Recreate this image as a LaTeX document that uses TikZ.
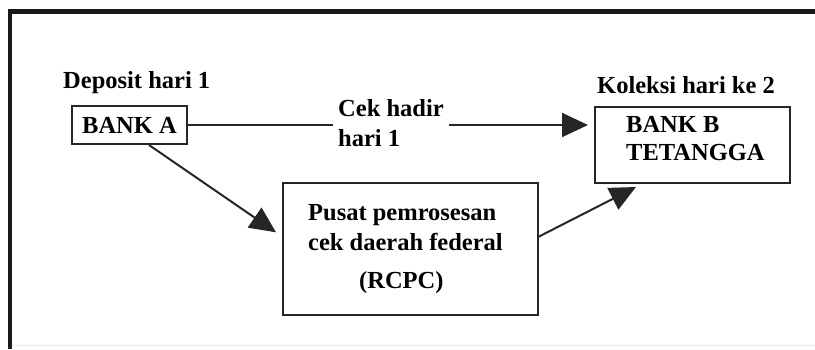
\documentclass[tikz,border=0pt]{standalone}
\usepackage{fontspec}
\setmainfont{Liberation Serif}
\usetikzlibrary{arrows.meta,calc}

\tikzset{
  txt/.style={font=\bfseries\fontsize{24.5}{30}\selectfont, inner sep=0pt, text=black},
  box/.style={draw=black!85, line width=2pt, inner sep=0pt},
  link/.style={draw=black!85, line width=2pt,
    -{Triangle[length=26pt,width=24pt]}},
  frame/.style={draw=black!90, line width=4.5pt, line join=miter}
}

\begin{document}
\begin{tikzpicture}[x=1pt,y=-1pt]
  \useasboundingbox (0,0) rectangle (815,349);

  % outer frame (open on the right)
  \draw[frame] (10,349) -- (10,11.25) -- (815,11.25);
  \draw[black!8, line width=1.5pt] (12,345.5) -- (815,345.5);

  % captions
  \node[txt, anchor=base west] (dep) at (63,88.3) {Deposit hari 1};
  \node[txt, anchor=base west] (kol) at (597,93.3) {Koleksi hari ke 2};

  % banks (multi-line texts are placed by the baseline of their last line)
  \node[box, txt, minimum width=115pt, minimum height=38pt] (bankA) at (129.5,125) {BANK A};
  \node[box, minimum width=195pt, minimum height=76pt] (bankB) at (692.5,145) {};
  \node[txt, anchor=base west, align=left] (bankBtxt) at (626,160) {BANK B\\[-2.5pt]TETANGGA};

  % regional check processing centre
  \node[box, minimum width=255pt, minimum height=132pt] (rcpc) at (410.5,248.8) {};
  \node[txt, anchor=base west, align=left] (rcpctxt) at (308,288.3)
    {Pusat pemrosesan\\cek daerah federal\\[8pt]\hspace*{51pt}(RCPC)};

  % direct presentation of the cheque
  \draw[link, shorten >=6pt] (bankA.east) -- (bankA.east -| bankB.west);
  \node[txt, anchor=base west, align=left, fill=white, inner xsep=5pt, inner ysep=2pt]
    (cek) at (333,146.5) {Cek hadir\\hari 1};

  % routing through the processing centre
  \draw[link] ($(bankA.south west)+(78,0)$) -- ($(rcpc.north west)+(-6,50.5)$);
  \draw[link] ($(rcpc.north east)+(-1.5,55.5)$) -- ($(bankB.south west)+(42,3)$);
\end{tikzpicture}
\end{document}
